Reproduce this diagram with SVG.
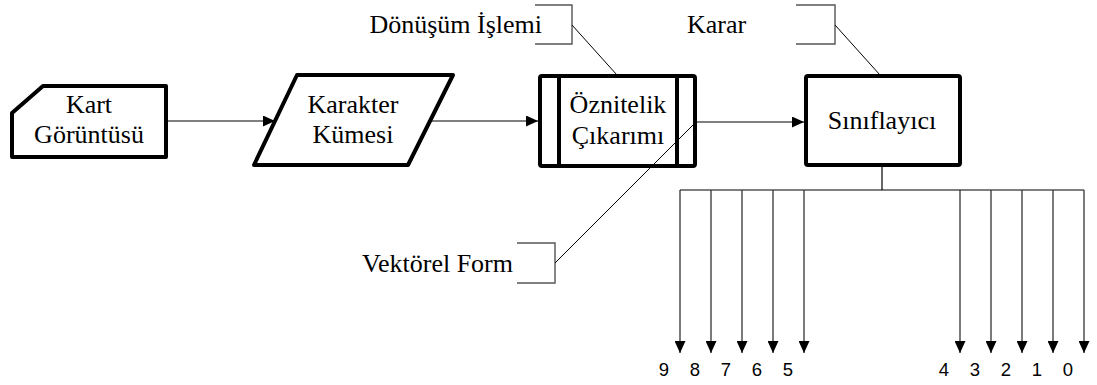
<svg xmlns="http://www.w3.org/2000/svg" width="1097" height="385" viewBox="0 0 1097 385">
  <defs>
    <marker id="arrow" viewBox="0 0 12 11" refX="12" refY="5.5" markerWidth="12" markerHeight="11" markerUnits="userSpaceOnUse" orient="auto">
      <path d="M0,0 L12,5.5 L0,11 Z" fill="#000"/>
    </marker>
    <style>
      .node { fill: #fff; stroke: #000; stroke-width: 4; stroke-linejoin: round; }
      .bracket { fill: none; stroke: #555; stroke-width: 1.4; }
      .leader { fill: none; stroke: #000; stroke-width: 1; }
      .conn { fill: none; stroke: #000; stroke-width: 1.2; }
      .out { fill: none; stroke: #333; stroke-width: 1.3; }
    </style>
  </defs>

  <rect width="1097" height="385" fill="#fff"/>

  <!-- connectors -->
  <g id="connectors">
    <line class="conn" x1="168" y1="121" x2="275" y2="121" marker-end="url(#arrow)"/>
    <line class="conn" x1="430" y1="121" x2="538" y2="121" marker-end="url(#arrow)"/>
    <line class="conn" x1="697" y1="122" x2="804" y2="122" marker-end="url(#arrow)"/>
    <line class="conn" x1="882" y1="167" x2="882" y2="190"/>
    <line class="conn" x1="680" y1="190" x2="1084" y2="190"/>
    <g class="outputs">
      <line class="out" x1="680" y1="190" x2="680" y2="353" marker-end="url(#arrow)"/>
      <line class="out" x1="711" y1="190" x2="711" y2="353" marker-end="url(#arrow)"/>
      <line class="out" x1="742" y1="190" x2="742" y2="353" marker-end="url(#arrow)"/>
      <line class="out" x1="773" y1="190" x2="773" y2="353" marker-end="url(#arrow)"/>
      <line class="out" x1="804" y1="190" x2="804" y2="353" marker-end="url(#arrow)"/>
      <line class="out" x1="960" y1="190" x2="960" y2="353" marker-end="url(#arrow)"/>
      <line class="out" x1="991" y1="190" x2="991" y2="353" marker-end="url(#arrow)"/>
      <line class="out" x1="1022" y1="190" x2="1022" y2="353" marker-end="url(#arrow)"/>
      <line class="out" x1="1053" y1="190" x2="1053" y2="353" marker-end="url(#arrow)"/>
      <line class="out" x1="1084" y1="190" x2="1084" y2="353" marker-end="url(#arrow)"/>
    </g>
  </g>

  <g font-family="'Liberation Serif', 'DejaVu Serif', serif" font-size="26" fill="#000">
    <!-- card image input -->
    <g id="kart" text-anchor="middle">
      <path class="node" d="M12,113 L43,86 L166,86 L166,157 L12,157 Z"/>
      <text x="89" y="113">Kart</text>
      <text x="89" y="143">Görüntüsü</text>
    </g>

    <!-- character set -->
    <g id="karakter" text-anchor="middle">
      <path class="node" d="M297,75 L453,75 L408,165 L254,165 Z"/>
      <text x="353" y="113">Karakter</text>
      <text x="353" y="143">Kümesi</text>
    </g>

    <!-- feature extraction (predefined process) -->
    <g id="oznitelik" text-anchor="middle">
      <rect class="node" x="540" y="76" width="155" height="90" rx="2"/>
      <line x1="559" y1="76" x2="559" y2="166" stroke="#000" stroke-width="4"/>
      <line x1="677" y1="76" x2="677" y2="166" stroke="#000" stroke-width="4"/>
      <text x="618" y="113">Öznitelik</text>
      <text x="618" y="144">Çıkarımı</text>
    </g>

    <!-- classifier -->
    <g id="siniflayici" text-anchor="middle">
      <rect class="node" x="806" y="76" width="154" height="89" rx="2"/>
      <text x="882" y="129">Sınıflayıcı</text>
    </g>

    <!-- annotations -->
    <g id="note-donusum">
      <path class="bracket" d="M535,5 L572,5 L572,44 L535,44"/>
      <line class="leader" x1="572" y1="25" x2="617" y2="75"/>
      <text x="542" y="33" text-anchor="end">Dönüşüm İşlemi</text>
    </g>
    <g id="note-karar">
      <path class="bracket" d="M796,5 L835,5 L835,44 L796,44"/>
      <line class="leader" x1="835" y1="25" x2="880" y2="75"/>
      <text x="687" y="33">Karar</text>
    </g>
    <g id="note-vektorel">
      <path class="bracket" d="M517,243 L555,243 L555,283 L517,283"/>
      <line class="leader" x1="555" y1="263" x2="696" y2="122"/>
      <text x="513" y="272" text-anchor="end">Vektörel Form</text>
    </g>
  </g>

  <!-- class labels -->
  <g id="labels" font-family="'Liberation Sans', Arial, sans-serif" font-size="18.5" fill="#000" text-anchor="middle">
    <text x="664" y="376">9</text>
    <text x="695" y="376">8</text>
    <text x="726" y="376">7</text>
    <text x="757" y="376">6</text>
    <text x="788" y="376">5</text>
    <text x="944" y="376">4</text>
    <text x="975" y="376">3</text>
    <text x="1006" y="376">2</text>
    <text x="1037" y="376">1</text>
    <text x="1068" y="376">0</text>
  </g>
</svg>
